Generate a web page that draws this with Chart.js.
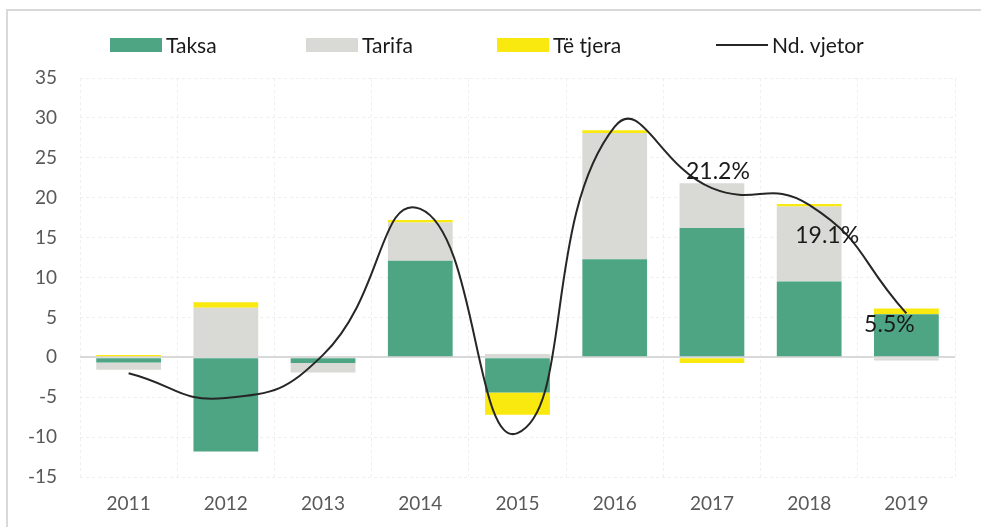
<!DOCTYPE html>
<html>
<head>
<meta charset="utf-8">
<script src="https://cdn.jsdelivr.net/npm/chart.js@4.4.1/dist/chart.umd.min.js"></script>
<style>
  html, body { margin: 0; padding: 0; background: #fff; overflow: hidden; }
  #wrap  { position: relative; width: 981px; height: 527px; }
  #frame { position: absolute; left: 6px; top: 9px; right: -10px; bottom: -10px;
           border-top: 2px solid #d9d9d9; border-left: 2px solid #d9d9d9; pointer-events: none; }
  canvas { position: absolute; left: 0; top: 0; }
</style>
</head>
<body>
<div id="wrap">
  <canvas id="chart" width="981" height="527"></canvas>
  <div id="frame"></div>
</div>
<script>
// data
const years   = ['2011', '2012', '2013', '2014', '2015', '2016', '2017', '2018', '2019'];
const taksa   = [-0.65, -11.8, -0.7, 12.1, -4.4, 12.3, 16.2, 9.5, 5.4];
const tarifa  = [-0.9, 6.2, -1.2, 4.8, 0.4, 15.8, 5.6, 9.4, -0.4];
const tjera   = [0.3, 0.7, 0, 0.3, -2.8, 0.35, -0.7, 0.3, 0.7];
const vjetor  = [-2.0, -5.1, 0.3, 18.6, -9.5, 28.9, 21.2, 19.1, 5.5];
const yMin = -15, yMax = 35, yStep = 5;
const labelIdx = [6, 7, 8];           // points that carry a % label

const FONT = 'Lato, "Open Sans", sans-serif';

// label nudges (px) for the three value labels
const labelNudge = { 6: [6, -17], 7: [18, 31], 8: [-17, 11] };

const valueLabels = {
  id: 'valueLabels',
  afterDatasetsDraw(chart) {
    const { ctx } = chart;
    const x = chart.scales.x, y = chart.scales.y;
    ctx.save();
    ctx.font = '23px ' + FONT;
    ctx.fillStyle = '#1a1a1a';
    ctx.textAlign = 'center';
    ctx.textBaseline = 'middle';
    labelIdx.forEach(i => {
      const [dx, dy] = labelNudge[i] || [0, 0];
      ctx.fillText(vjetor[i].toFixed(1) + '%',
                   x.getPixelForValue(i) + dx, y.getPixelForValue(vjetor[i]) + dy);
    });
    ctx.restore();
  }
};

// legend laid out like the original (wide gaps between items)
const legendX = [110, 306, 497, 716];
const topLegend = {
  id: 'topLegend',
  afterDraw(chart) {
    const { ctx } = chart;
    const cy = 45, boxW = 52, boxH = 14;
    ctx.save();
    ctx.font = '21px ' + FONT;
    ctx.textBaseline = 'middle';
    chart.data.datasets.forEach((ds, i) => {
      const cx = legendX[i];
      if (ds.type === 'line') {
        ctx.strokeStyle = ds.borderColor;
        ctx.lineWidth = 2;
        ctx.beginPath();
        ctx.moveTo(cx, cy); ctx.lineTo(cx + boxW, cy);
        ctx.stroke();
      } else {
        ctx.fillStyle = ds.backgroundColor;
        ctx.fillRect(cx, cy - boxH / 2, boxW, boxH);
      }
      ctx.fillStyle = '#1a1a1a';
      ctx.fillText(ds.label, cx + boxW + 4, cy + 1);
    });
    ctx.restore();
  }
};

const barCommon = { type: 'bar', stack: 'bars', order: 1, borderWidth: 0,
                    barPercentage: 0.666, categoryPercentage: 1 };

new Chart(document.getElementById('chart').getContext('2d'), {
  data: {
    labels: years,
    datasets: [
      { ...barCommon, label: 'Taksa',    data: taksa,  backgroundColor: '#4da584' },
      { ...barCommon, label: 'Tarifa',   data: tarifa, backgroundColor: '#d9d9d5' },
      { ...barCommon, label: 'Të tjera', data: tjera,  backgroundColor: '#f9e90e' },
      {
        type: 'line', label: 'Nd. vjetor', data: vjetor, stack: 'line', order: 0,
        borderColor: '#262626', borderWidth: 2, tension: 0.5,
        pointRadius: 0, fill: false
      }
    ]
  },
  options: {
    responsive: false,
    animation: false,
    layout: { padding: { top: 78, right: 26, left: 0, bottom: 0 } },
    plugins: { legend: { display: false }, tooltip: { enabled: false } },
    scales: {
      x: {
        stacked: true,
        afterFit: s => { s.height = 50; },
        grid: { color: '#efefef', drawTicks: false, offset: true },
        border: { display: false, dash: [3, 3] },
        ticks: { color: '#595959', font: { family: FONT, size: 19 }, padding: 15 }
      },
      y: {
        stacked: true,
        min: yMin, max: yMax,
        afterFit: s => { s.width = 80; },
        grid: {
          drawTicks: false,
          color: c => c.tick && c.tick.value === 0 ? '#d9d9d9' : '#efefef',
          lineWidth: c => c.tick && c.tick.value === 0 ? 2 : 1
        },
        border: { display: false, dash: c => c.tick && c.tick.value === 0 ? [] : [3, 3] },
        ticks: { stepSize: yStep, color: '#595959', font: { family: FONT, size: 19 }, padding: 23 }
      }
    }
  },
  plugins: [valueLabels, topLegend]
});
</script>
</body>
</html>
